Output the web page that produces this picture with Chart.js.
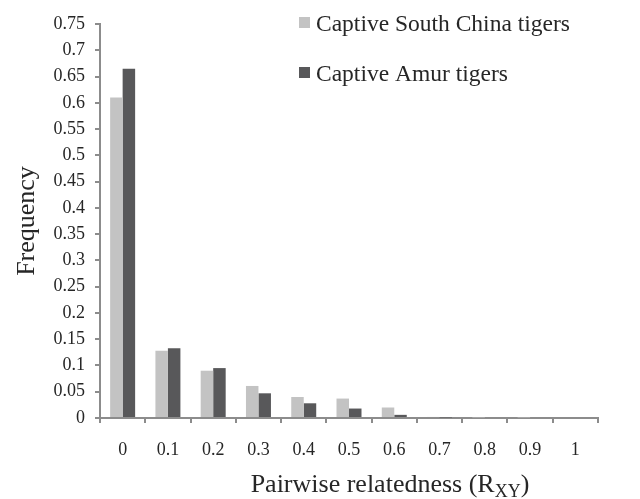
<!DOCTYPE html>
<html>
<head>
<meta charset="utf-8">
<script src="https://cdn.jsdelivr.net/npm/chart.js@4"></script>
<style>
html,body{margin:0;padding:0;background:#fff;}
#wrap{width:640px;height:499px;position:relative;}
#pre{position:absolute;left:-9999px;top:0;font-family:"Liberation Serif";font-size:20px;}
</style>
</head>
<body>
<div id="pre">Captive 0.75 Frequency</div>
<div id="wrap"><canvas id="c" width="640" height="499"></canvas></div>
<script>
const categories = ["0","0.1","0.2","0.3","0.4","0.5","0.6","0.7","0.8","0.9","1"];
const southChina = [0.61,0.128,0.09,0.061,0.04,0.037,0.02,0.002,0.001,0.001,0];
const amur = [0.665,0.133,0.095,0.047,0.028,0.018,0.006,0.001,0,0,0];
const seriesNames = ["Captive South China tigers","Captive Amur tigers"];
const yTitle = "Frequency";
const xTitleMain = "Pairwise relatedness (R";
const xTitleSub = "XY";
const xTitleEnd = ")";

const SERIF = '"Liberation Serif", "Times New Roman", serif';
const TEXT = "#262626";
const AXIS = "#8c8c8c";

const overlay = {
  id: 'overlay',
  afterDraw(chart) {
    const ctx = chart.ctx;
    ctx.save();
    const ds = chart.data.datasets;
    ds.forEach((d, i) => {
      const y = 23 + i * 50;
      ctx.fillStyle = d.backgroundColor;
      ctx.fillRect(299, y - 6, 11, 11);
      ctx.fillStyle = TEXT;
      ctx.font = "23.5px " + SERIF;
      ctx.textBaseline = 'alphabetic';
      ctx.textAlign = 'left';
      ctx.fillText(d.label, 316, y + 8);
    });
    const mainFont = "26px " + SERIF, subFont = "18px " + SERIF;
    ctx.font = mainFont;
    const w1 = ctx.measureText(xTitleMain).width;
    const w3 = ctx.measureText(xTitleEnd).width;
    ctx.font = subFont;
    const w2 = ctx.measureText(xTitleSub).width;
    const total = w1 + w2 + w3;
    let x = 390 - total / 2;
    const base = 492;
    ctx.fillStyle = TEXT;
    ctx.textAlign = 'left';
    ctx.textBaseline = 'alphabetic';
    ctx.font = mainFont; ctx.fillText(xTitleMain, x, base); x += w1;
    ctx.font = subFont; ctx.fillText(xTitleSub, x, base + 5); x += w2;
    ctx.font = mainFont; ctx.fillText(xTitleEnd, x, base);
    ctx.restore();
  }
};

function draw() {
  new Chart(document.getElementById('c'), {
    type: 'bar',
    data: {
      labels: categories,
      datasets: [
        {label: seriesNames[0], data: southChina, backgroundColor: '#c3c3c3', borderWidth: 0},
        {label: seriesNames[1], data: amur, backgroundColor: '#58585a', borderWidth: 0}
      ]
    },
    options: {
      responsive: false,
      animation: false,
      devicePixelRatio: 1,
      layout: {padding: {left: 0, right: 42, top: 24, bottom: 0}},
      plugins: {legend: {display: false}, tooltip: {enabled: false}},
      datasets: {bar: {categoryPercentage: 0.552, barPercentage: 1.0}},
      scales: {
        x: {
          grid: {display: true, drawOnChartArea: false, tickLength: 5, color: AXIS, lineWidth: 2, offset: true},
          border: {display: true, color: AXIS, width: 2},
          ticks: {color: TEXT, font: {family: SERIF, size: 18}, padding: 16, maxRotation: 0},
          afterFit(s) { s.height = 81; }
        },
        y: {
          min: 0, max: 0.75,
          grid: {display: true, drawOnChartArea: false, tickLength: 5, color: AXIS, lineWidth: 2},
          border: {display: true, color: AXIS, width: 2},
          ticks: {stepSize: 0.05, color: TEXT, font: {family: SERIF, size: 18}, padding: 10,
            callback: v => String(Math.round(v * 100) / 100)},
          title: {display: true, text: yTitle, color: TEXT, font: {family: SERIF, size: 26}, padding: {top: 12, bottom: 0}},
          afterFit(s) { s.width = 100; }
        }
      }
    },
    plugins: [overlay]
  });
}
if (document.fonts && document.fonts.load) {
  Promise.all([
    document.fonts.load('18px "Liberation Serif"'),
    document.fonts.load('26px "Liberation Serif"')
  ]).then(draw, draw);
} else { draw(); }
</script>
</body>
</html>
